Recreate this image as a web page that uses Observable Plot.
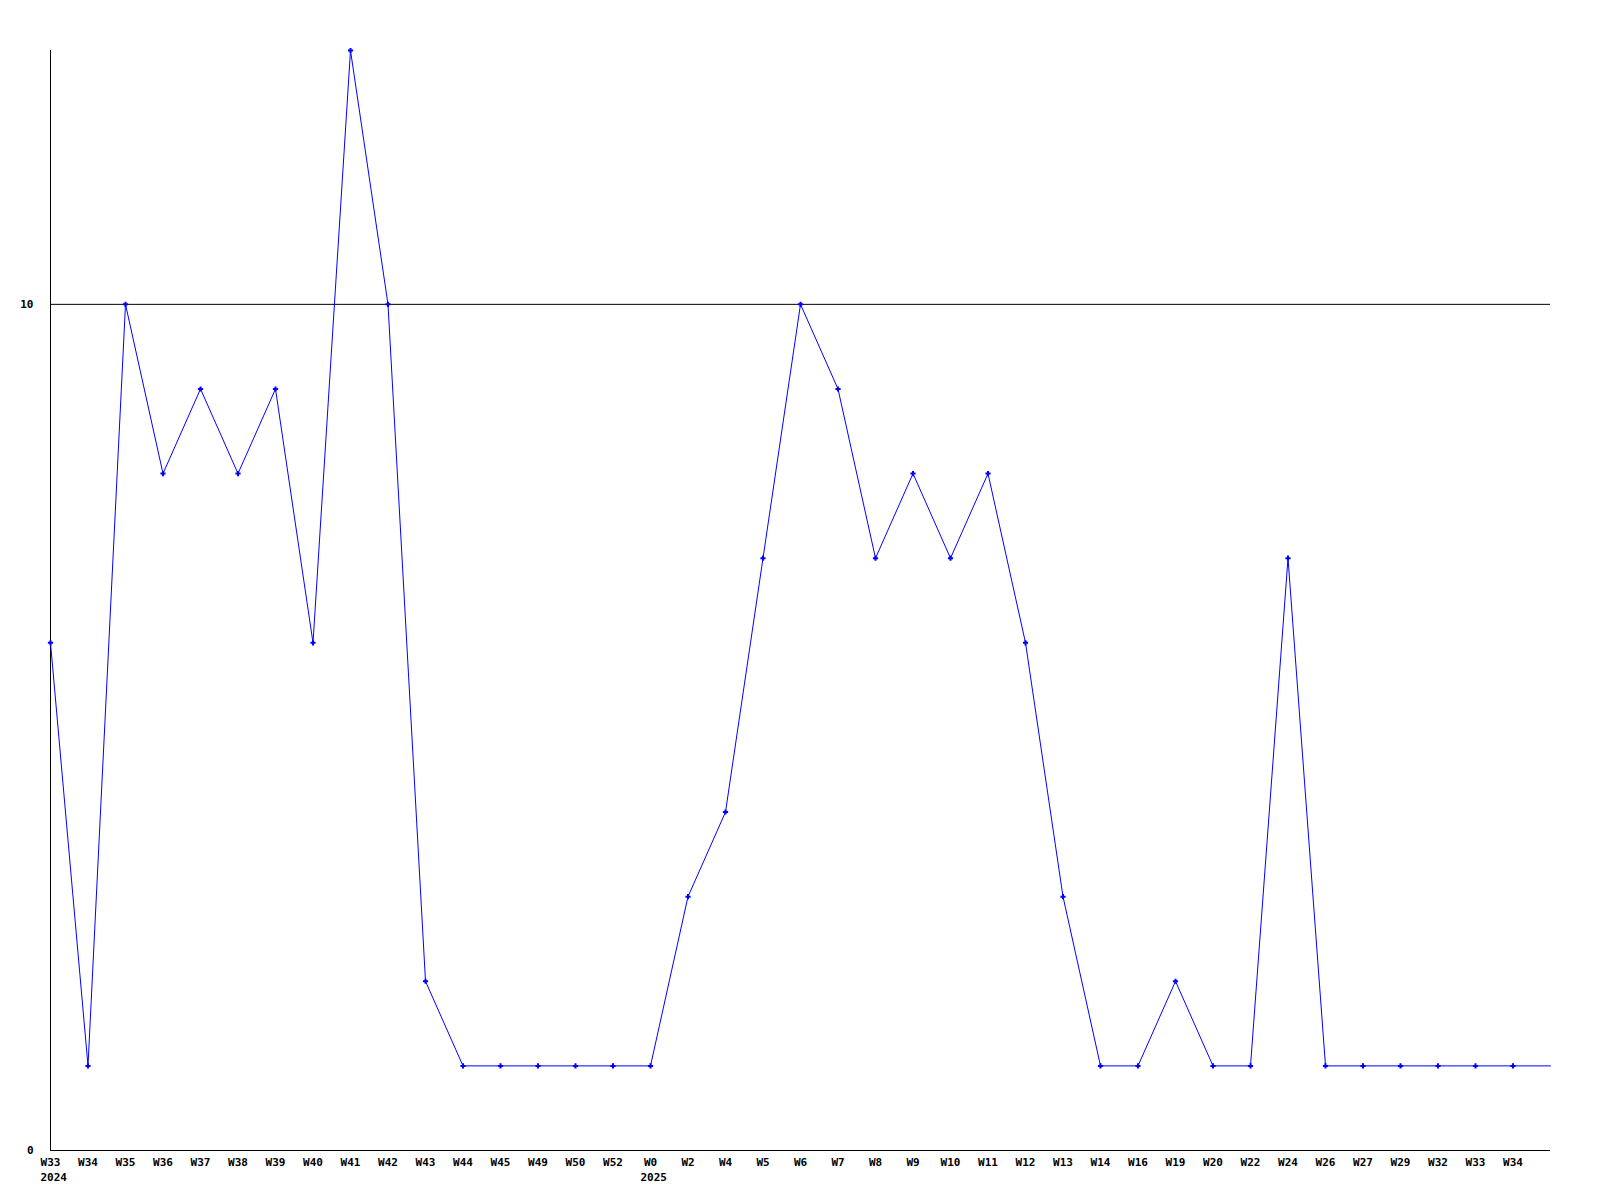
<!DOCTYPE html>
<html>
<head>
<meta charset="utf-8">
<script src="https://cdn.jsdelivr.net/npm/d3@7"></script>
<script src="https://cdn.jsdelivr.net/npm/@observablehq/plot@0.6"></script>
<style>
  body { margin: 0; background: #fff; }
  svg text { font-weight: bold; }
</style>
</head>
<body>
<div id="chart"></div>
<script>
const weeks = ["W33","W34","W35","W36","W37","W38","W39","W40","W41","W42","W43","W44","W45","W49","W50","W52","W0","W2","W4","W5","W6","W7","W8","W9","W10","W11","W12","W13","W14","W16","W19","W20","W22","W24","W26","W27","W29","W32","W33","W34",""];
const values = [6,1,10,8,9,8,9,6,13,10,2,1,1,1,1,1,1,3,4,7,10,9,7,8,7,8,6,3,1,1,2,1,1,7,1,1,1,1,1,1,1];
const years = [{i: 0, t: "2024"}, {i: 16, t: "2025"}];

const data = values.map((v, i) => ({i, v, label: weeks[i]}));
const labeled = data.filter(d => d.label !== "");

const chart = Plot.plot({
  width: 1600,
  height: 1200,
  marginLeft: 50,
  marginRight: 50,
  marginTop: 50,
  marginBottom: 50,
  style: {fontFamily: "DejaVu Sans Mono", fontSize: "11px", background: "#fff", color: "#000"},
  x: {type: "linear", domain: [0, weeks.length - 1]},
  y: {domain: [0, 13]},
  marks: [
    Plot.ruleY([10], {stroke: "#000", strokeWidth: 1}),
    Plot.ruleY([0], {stroke: "#000", strokeWidth: 1}),
    Plot.ruleX([0], {y1: 0, y2: 13, stroke: "#000", strokeWidth: 1}),
    Plot.axisY({ticks: [0, 10], tickSize: 0, tickPadding: 17, label: null}),
    Plot.axisX({ticks: labeled.map(d => d.i), tickFormat: i => weeks[i], tickSize: 0, tickPadding: 8, label: null}),
    Plot.text(years, {x: "i", y: () => 0, text: "t", textAnchor: "start", dx: -10, dy: 27, fill: "#000"}),
    Plot.line(data, {x: "i", y: "v", stroke: "#0000ff", strokeWidth: 1}),
    Plot.dot(labeled, {x: "i", y: "v", symbol: "plus", r: 1.8, stroke: "#0000ff", strokeWidth: 2})
  ]
});
document.getElementById("chart").append(chart);
</script>
</body>
</html>
